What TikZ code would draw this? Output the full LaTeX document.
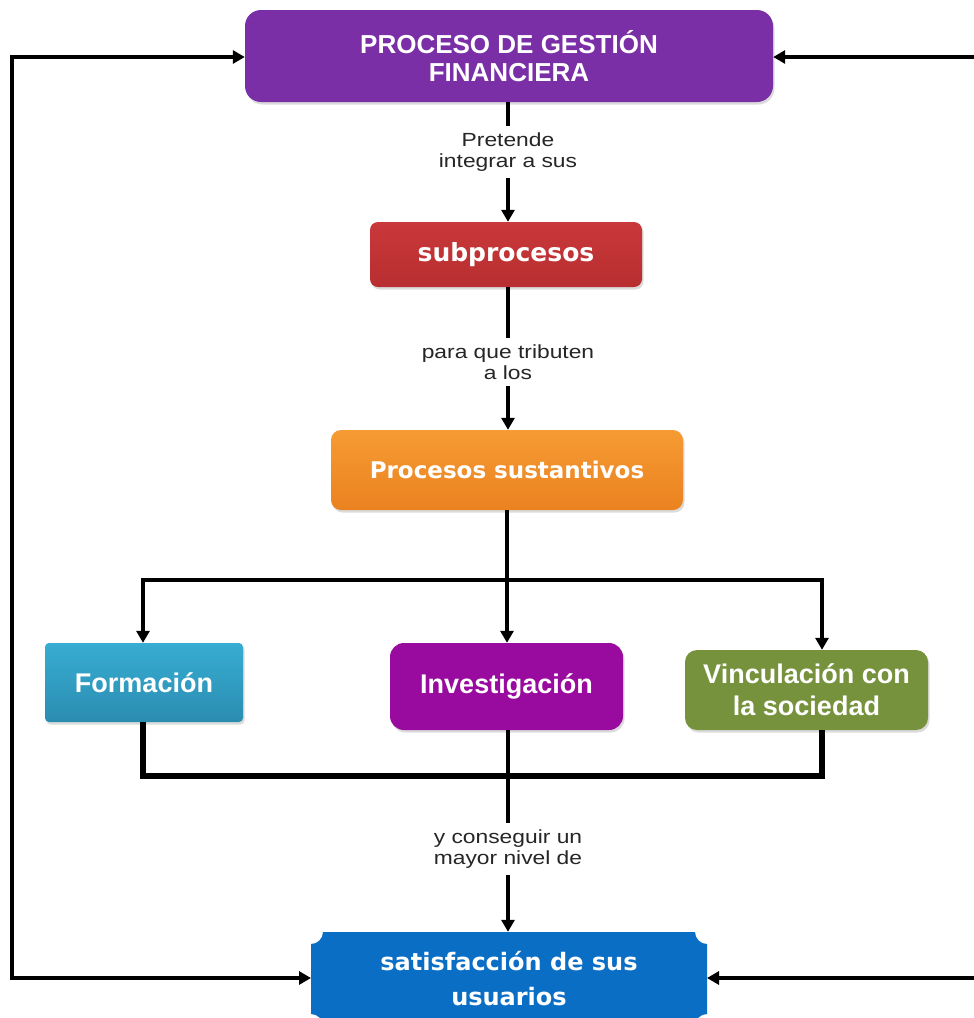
\documentclass[tikz,border=0pt]{standalone}
\usepackage{fontspec}
\setmainfont{Liberation Sans}
\newfontfamily\dejavu{DejaVu Sans}
\newfontfamily\labfont[FakeStretch=1.2]{Liberation Sans}
\usetikzlibrary{arrows.meta,shadows}
\definecolor{cpurple}{HTML}{7A2FA7}
\definecolor{cred}{HTML}{C9383A}
\definecolor{credd}{HTML}{B82E30}
\definecolor{corange}{HTML}{F69B33}
\definecolor{corangedd}{HTML}{EA8220}
\definecolor{ccyan}{HTML}{38ACD2}
\definecolor{ccyandd}{HTML}{2A8DB0}
\definecolor{cmagenta}{HTML}{990B9E}
\definecolor{colive}{HTML}{76923C}
\definecolor{cblue}{HTML}{0B6EC5}
\begin{document}
\begin{tikzpicture}[x=1pt,y=-1pt,
  boxbase/.style={rounded corners=#1, inner sep=0pt, align=center, text=white,
    drop shadow={opacity=0.28, shadow xshift=1.5pt, shadow yshift=-2.5pt}},
  conn/.style={line width=4pt, draw=black},
  arr/.style={conn, -{Triangle[length=12pt,width=13pt]}},
  lab/.style={fill=white, inner sep=6pt, align=center, text=black!85,
    font=\labfont\fontsize{19}{21}\selectfont}]
\path[clip] (0,0) rectangle (974,1018);
\fill[white] (0,0) rectangle (974,1018);

% boxes
\node[boxbase=16pt, fill=cpurple, minimum width=528pt, minimum height=92pt,
  font=\bfseries\fontsize{26}{28}\selectfont] (top) at (509,56)
  {PROCESO DE GESTIÓN\\FINANCIERA};
\node[boxbase=8pt, top color=cred, bottom color=credd, minimum width=272pt, minimum height=65pt,
  font=\dejavu\bfseries\fontsize{25}{30}\selectfont] (sub) at (506,254.5) {subprocesos};
\node[boxbase=10pt, top color=corange, bottom color=corangedd, minimum width=352pt, minimum height=80pt,
  font=\dejavu\bfseries\fontsize{23}{28}\selectfont] (sus) at (507,470) {Procesos sustantivos};
\node[boxbase=4pt, top color=ccyan, bottom color=ccyandd, minimum width=198pt, minimum height=79pt,
  font=\bfseries\fontsize{27}{32}\selectfont] (for) at (144,682.5) {Formación};
\node[boxbase=14pt, fill=cmagenta, minimum width=233pt, minimum height=87pt,
  font=\bfseries\fontsize{27}{32}\selectfont] (inv) at (506.5,686.5) {Investigación};
\node[boxbase=12pt, fill=colive, minimum width=243pt, minimum height=80pt,
  font=\bfseries\fontsize{27}{32}\selectfont] (vin) at (806.5,690) {Vinculación con\\la sociedad};

% scalloped bottom box
\fill[cblue] (323,932) -- (695,932) arc[start angle=180,end angle=90,radius=12]
  -- (707,1014) arc[start angle=270,end angle=180,radius=12]
  -- (323,1026) arc[start angle=0,end angle=-90,radius=12]
  -- (311,944) arc[start angle=90,end angle=0,radius=12] -- cycle;
\node[inner sep=0pt, align=center, text=white, minimum width=396pt, minimum height=94pt,
  font=\dejavu\bfseries\fontsize{24}{35}\selectfont] (bot) at (509,979)
  {satisfacción de sus\\usuarios};

% labels
\node[lab] (l1) at (508,152) {Pretende\\integrar a sus};
\node[lab] (l2) at (508,362) {para que tributen\\a los};
\node[lab] (l3) at (508,849) {y conseguir un\\mayor nivel de};

% spine
\draw[conn] (top.south -| l1) -- (l1.north);
\draw[arr] (l1.south) -- (l1.south |- sub.north);
\draw[conn] (sub.south -| l2) -- (l2.north);
\draw[arr] (l2.south) -- (l2.south |- sus.north);

% branches
\coordinate (br) at (507,580);
\coordinate (brl) at (143,580);
\coordinate (brr) at (822,580);
\draw[conn] (sus.south -| br) -- (br);
\draw[arr] (br) -- (br |- inv.north);
\draw[arr] (br) -- (brl) -- (brl |- for.north);
\draw[arr] (br) -- (brr) -- (brr |- vin.north);

% join
\coordinate (jl) at (143,776);
\coordinate (jr) at (822,776);
\draw[conn, line width=5.5pt] (jl |- for.south) -- (jl) -- (jr) -- (jr |- vin.south);
\draw[conn] (inv.south -| l3) -- (l3.north);
\draw[arr] (l3.south) -- (l3.south |- bot.north);

% loops
\coordinate (lt) at (12,57);
\coordinate (lb) at (12,978);
\draw[conn, {Triangle[length=12pt,width=13pt]}-{Triangle[length=12pt,width=13pt]}]
  (top.west |- lt) -- (lt) -- (lb) -- (311,978);
\coordinate (rt) at (990,57);
\coordinate (rb) at (990,978);
\draw[arr] (rt) -- (top.east |- rt);
\draw[arr] (rb) -- (707,978);
\end{tikzpicture}
\end{document}
